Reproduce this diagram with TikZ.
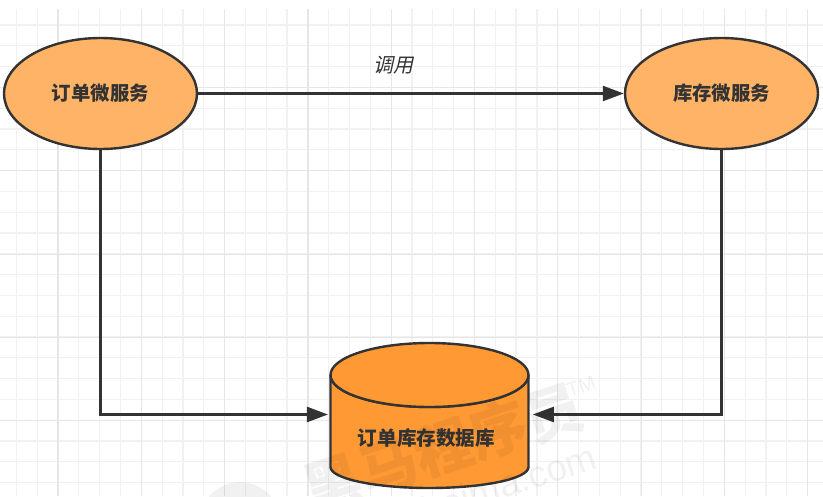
\documentclass[tikz,border=0pt]{standalone}
\usepackage{fontspec}
\usetikzlibrary{shapes.geometric,arrows.meta}
\setmainfont{Liberation Sans}
\newfontfamily\cjk{Noto Sans CJK SC}
\newfontfamily\cjki[FakeSlant=0.22]{Noto Sans CJK SC}
\definecolor{lineC}{HTML}{333333}
\definecolor{svcC}{HTML}{FFB366}
\definecolor{dbC}{HTML}{FF9933}
\definecolor{gridminor}{HTML}{F1F1F1}
\definecolor{gridmajor}{HTML}{E6E6E6}
\tikzset{
  service/.style={ellipse,draw=lineC,line width=2.4pt,fill=svcC,minimum width=193pt,minimum height=111pt,inner sep=0pt,text=lineC,font=\cjk\bfseries\fontsize{19.4}{22}\selectfont},
  dbtext/.style={inner sep=0pt,text=lineC,font=\cjk\bfseries\fontsize{19.6}{22}\selectfont},
  dbport/.style={rectangle,minimum width=204.5pt,minimum height=10pt,inner sep=0pt},
  edgelabel/.style={inner sep=0pt,text=lineC,font=\cjki\fontsize{20}{22}\selectfont},
  flow/.style={draw=lineC,line width=2.4pt,-{Triangle[length=21pt,width=15pt]}},
  mark text/.style={inner sep=0pt,text=black,opacity=.055,rotate=18},
}
\begin{document}
\begin{tikzpicture}[x=1pt,y=-1pt]
\useasboundingbox (0,0) rectangle (823,496);
\fill[white] (0,0) rectangle (823,496);
% grid
\foreach \k in {0,...,38}{
  \pgfmathsetmacro\gx{16.4+20.82*\k}
  \draw[gridminor,line width=1.2pt] (\gx,9) -- (\gx,496);
}
\foreach \k in {0,...,22}{
  \pgfmathsetmacro\gy{25+20.8*\k}
  \draw[gridminor,line width=1.2pt] (0,\gy) -- (823,\gy);
}
\foreach \k in {0,...,9}{
  \pgfmathsetmacro\gx{58+83.3*\k}
  \draw[gridmajor,line width=1.2pt] (\gx,9) -- (\gx,496);
}
\foreach \k in {0,...,4}{
  \pgfmathsetmacro\gy{87.5+83.3*\k}
  \draw[gridmajor,line width=1.2pt] (0,\gy) -- (823,\gy);
}
% nodes
\node[service] (order) at (100.5,93.5) {订单微服务};
\node[service] (stock) at (721.5,93.5) {库存微服务};
\path[draw=lineC,line width=2.4pt,fill=dbC]
  (330.5,375) -- (330.5,467) arc[start angle=180,end angle=0,x radius=99,y radius=21]
  -- (528.5,375) arc[start angle=0,end angle=180,x radius=99,y radius=32] -- cycle;
\path[draw=lineC,line width=2.4pt,fill=dbC]
  (429.5,375) ellipse[x radius=99,y radius=32];
\node[dbport] (db) at (430.4,414.5) {};
\node[dbtext] (dblabel) at (426.5,438) {订单库存数据库};
\node[edgelabel] (call) at (393,65.5) {调用};
% connectors
\draw[flow] (order.east) -- (stock.west);
\draw[flow] (order.south) |- (db.west);
\draw[flow] (stock.south) |- (db.east);
% watermark
\begin{scope}
\clip (0,0) rectangle (823,496);
\node[mark text,font=\cjk\bfseries\fontsize{58}{60}\selectfont] (wm) at (443,448) {黑马程序员};
\node[mark text,font=\fontsize{37}{40}\selectfont] (wmurl) at (500,486) {itheima.com};
\node[mark text,font=\fontsize{20}{22}\selectfont] (wmtm) at (581,386) {TM};
\fill[black,opacity=.055] (240,522) circle[radius=40];
\end{scope}
\end{tikzpicture}
\end{document}
